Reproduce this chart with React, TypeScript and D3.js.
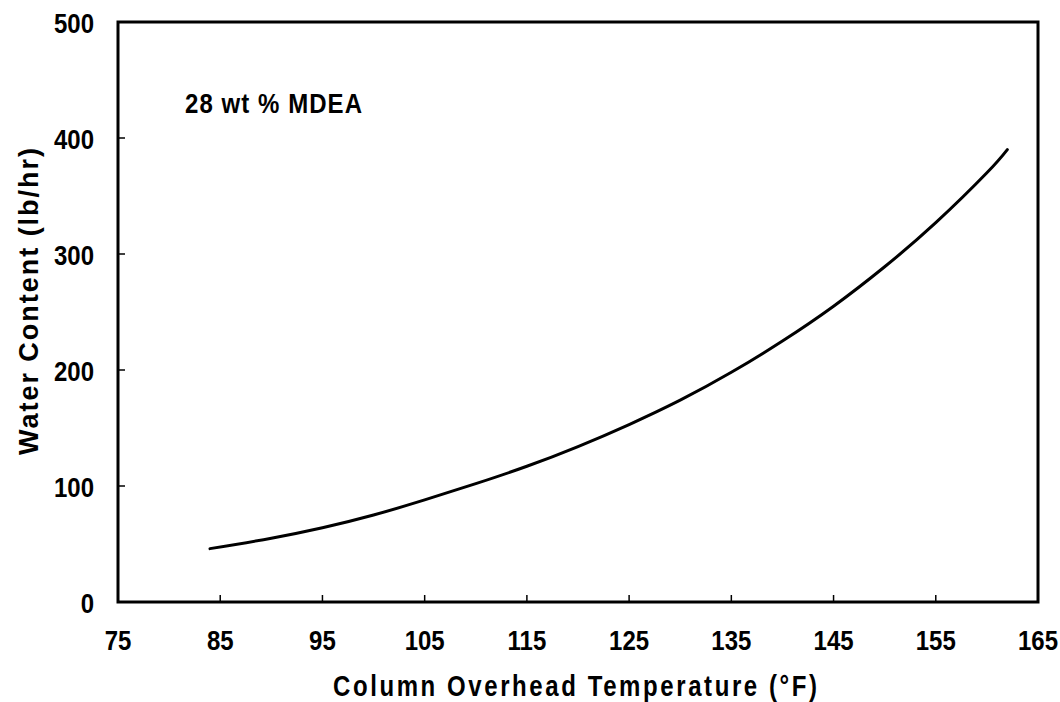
import React from "react";
import * as d3 from "d3";

const temps = [84, 90, 95, 100, 105, 110, 115, 120, 125, 130, 135, 140, 145, 150, 155, 160, 162];
const water = [46, 55, 64, 75, 88, 102, 117, 134, 153, 174, 198, 225, 255, 289, 327, 370, 390];
const xTicks = [75, 85, 95, 105, 115, 125, 135, 145, 155, 165];
const yTicks = [0, 100, 200, 300, 400, 500];
const annotation = "28 wt % MDEA";
const xTitle = "Column Overhead Temperature (°F)";
const yTitle = "Water Content (lb/hr)";

const W = 1060, H = 702;
const L = 118, R = 1038, T = 22, B = 602;
const FONT = "'Liberation Sans', Arial, sans-serif";

export default function App() {
  const x = d3.scaleLinear().domain([75, 165]).range([L, R]);
  const y = d3.scaleLinear().domain([0, 500]).range([B, T]);
  const pts = temps.map((t, i) => [t, water[i]] as [number, number]);
  const line = d3.line<[number, number]>()
    .x(d => x(d[0]))
    .y(d => y(d[1]))
    .curve(d3.curveNatural);

  return (
    <svg width={W} height={H} style={{ position: "absolute", left: 0, top: 0, background: "#fff" }}
      fontFamily={FONT} fontWeight="bold">
      <rect x={0} y={0} width={W} height={H} fill="#fff" />
      {xTicks.slice(1, -1).map(t => (
        <line key={"xt" + t} x1={x(t)} x2={x(t)} y1={B} y2={B - 7} stroke="#000" strokeWidth={1.5} />
      ))}
      {yTicks.slice(1, -1).map(t => (
        <line key={"yt" + t} x1={L} x2={L + 7} y1={y(t)} y2={y(t)} stroke="#000" strokeWidth={1.5} />
      ))}
      <rect x={L} y={T} width={R - L} height={B - T} fill="none" stroke="#000" strokeWidth={3} />
      <path d={line(pts) || ""} fill="none" stroke="#000" strokeWidth={3} strokeLinecap="round" />
      {xTicks.map(t => (
        <g key={"xl" + t} transform={`translate(${x(t)},650) scale(1,1.17)`}>
          <text x={0} y={0} textAnchor="middle" fontSize={24} fill="#000">{t}</text>
        </g>
      ))}
      {yTicks.map(t => (
        <g key={"yl" + t} transform={`translate(94,${y(t) + 11}) scale(1,1.17)`}>
          <text x={0} y={0} textAnchor="end" fontSize={24} fill="#000">{t}</text>
        </g>
      ))}
      <g transform={`translate(185,113) scale(1,1.17)`}>
        <text x={0} y={0} fontSize={24} fill="#000" textLength={177} lengthAdjust="spacing">{annotation}</text>
      </g>
      <g transform={`translate(333,696) scale(1,1.2)`}>
        <text x={0} y={0} fontSize={24} fill="#000" textLength={484} lengthAdjust="spacing">{xTitle}</text>
      </g>
      <g transform={`translate(38,455) rotate(-90)`}>
        <text x={0} y={0} fontSize={27} fill="#000" textLength={307} lengthAdjust="spacing">{yTitle}</text>
      </g>
    </svg>
  );
}
